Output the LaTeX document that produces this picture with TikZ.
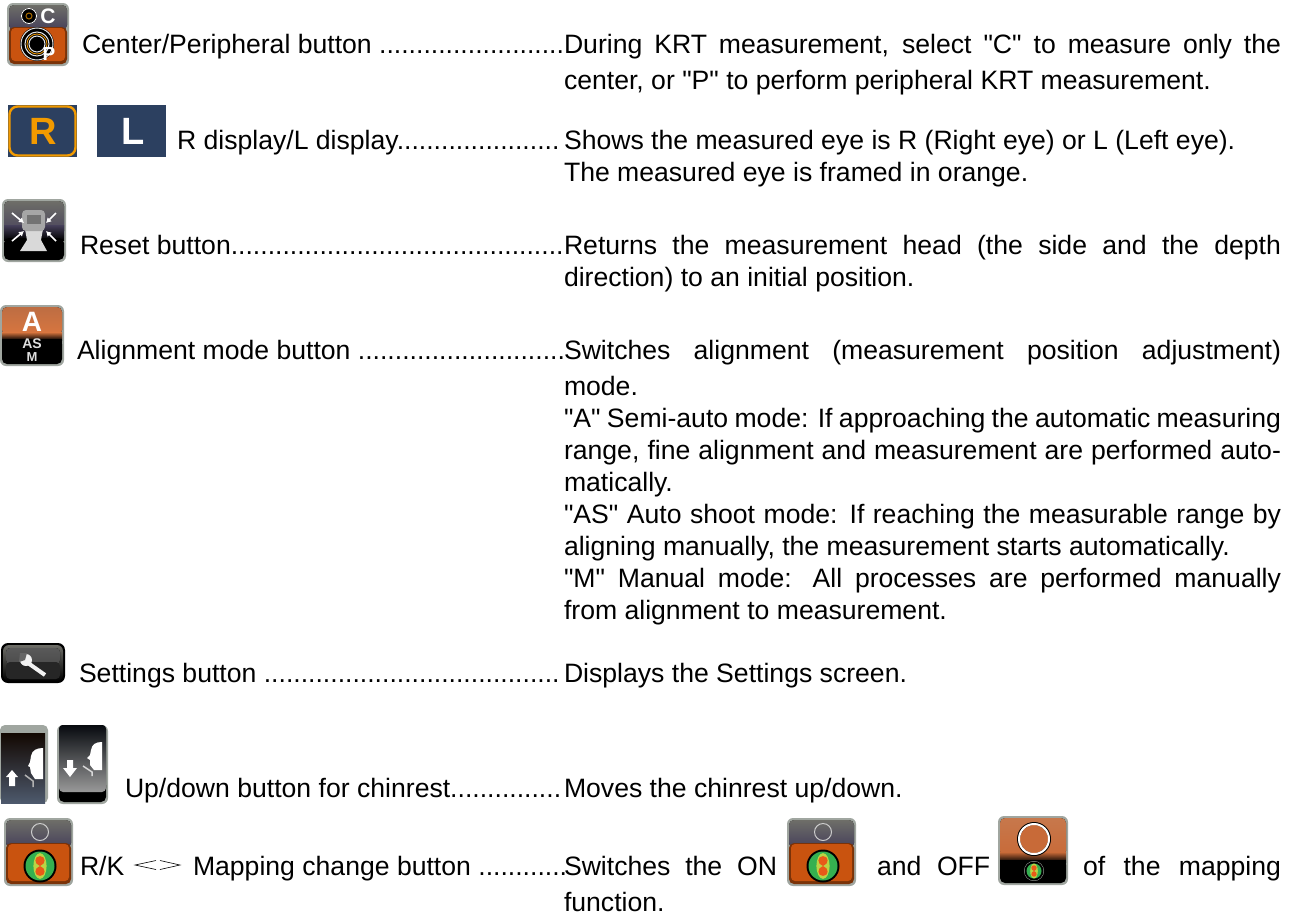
\documentclass[tikz,border=0pt]{standalone}
\usepackage{fontspec}
\newfontfamily\af{Liberation Sans}
\usetikzlibrary{arrows.meta}
\definecolor{navy}{HTML}{2C4060}
\definecolor{frameor}{HTML}{F29A00}
\definecolor{rimg}{HTML}{A0A6A0}
\definecolor{gtop}{HTML}{6E6E68}
\definecolor{gmid}{HTML}{46405A}
\definecolor{orA}{HTML}{C86A38}
\definecolor{orB}{HTML}{D9763F}
\definecolor{orD}{HTML}{C9530F}
\definecolor{orE}{HTML}{7A3208}
\definecolor{mapg}{HTML}{35B050}
\definecolor{mapy}{HTML}{E8E040}
\definecolor{mapr}{HTML}{E85A18}
\tikzset{
  x=1pt,y=-1pt,
  txt/.style={anchor=base west,inner sep=0pt,outer sep=0pt,font=\af\fontsize{26.6}{30}\selectfont},
  icontxt/.style={inner sep=0pt,text=white,font=\af\bfseries\fontsize{#1}{#1}\selectfont},
  rimbox/.style={rounded corners=6pt,fill=rimg},
}
\newcommand{\orpanel}[4]{%
  \fill[rounded corners=5pt,orE] (#1,#2) rectangle (#3,#4);
  \fill[rounded corners=4pt,orD] (#1+2,#2+1) rectangle (#3-2,#4-3);}
\newcommand{\mapdisk}[3]{%
  \fill[black] (#1,#2) circle[radius=#3];
  \fill[mapg] (#1,#2) circle[radius=#3-2];
  \fill[mapy!75!mapg] (#1,#2) ellipse[x radius=#3*0.40,y radius=#3*0.78];
  \fill[mapr] (#1,#2) .. controls (#1-#3*0.38,#2-#3*0.12) and (#1-#3*0.36,#2-#3*0.60) .. (#1,#2-#3*0.60) .. controls (#1+#3*0.36,#2-#3*0.60) and (#1+#3*0.38,#2-#3*0.12) .. (#1,#2);
  \fill[mapr] (#1,#2) .. controls (#1-#3*0.38,#2+#3*0.12) and (#1-#3*0.36,#2+#3*0.60) .. (#1,#2+#3*0.60) .. controls (#1+#3*0.36,#2+#3*0.60) and (#1+#3*0.38,#2+#3*0.12) .. (#1,#2);}
\newcommand{\onicon}[2]{%
  \begin{scope}[shift={(#1,#2)}]
    \fill[rimbox] (0,0) rectangle (69,68);
    \fill[rounded corners=5pt,top color=gtop,bottom color=gmid] (2,2) rectangle (67,30);
    \orpanel{2}{25}{67}{66}
    \draw[line width=1pt,draw=gray!40] (36,14) circle[radius=8.5];
    \mapdisk{36}{48}{16.5}
  \end{scope}}
\newcommand{\jline}[2]{\node[txt] at (564,#1) {\hbox to 717pt{#2}};}
\newcommand{\pline}[2]{\node[txt] at (564,#1) {#2};}
\newcommand{\lline}[3]{\node[txt] at (#1,#2) {#3};}
\begin{document}
\begin{tikzpicture}
\useasboundingbox (0,0) rectangle (1300,916);
\fill[white] (0,0) rectangle (1300,916);

% Center/Peripheral icon
\fill[rimbox] (7,3) rectangle (69,66);
\fill[rounded corners=5pt,top color=gtop,bottom color=gmid] (9,5) rectangle (67,30);
\orpanel{9}{27}{67}{64}
\fill[black] (29,16) circle[radius=8];
\draw[white,line width=.8pt] (29,16) circle[radius=7.5];
\draw[frameor!70!black,line width=1pt] (29,16) circle[radius=3];
\fill[black] (37,44) circle[radius=17];
\draw[white!80!gray,line width=1pt] (37,44) circle[radius=16];
\draw[white!80!gray,line width=1pt] (37,44) circle[radius=12];
\draw[white!80!gray,line width=1pt] (37,44) circle[radius=8];
\draw[frameor,line width=.8pt] (37,44) circle[radius=10];
\node[icontxt=21] (cpc) at (48,16) {C};
\node[icontxt=19] (cpp) at (49,54) {P};

% R / L
\fill[navy] (8,105) rectangle (77,157);
\draw[frameor,line width=2.4pt,rounded corners=8pt] (9.5,106.5) rectangle (75.5,155.5);
\node[icontxt=38,text=frameor] (rr) at (43,131) {R};
\fill[navy] (97,105) rectangle (166,157);
\node[icontxt=38] (ll) at (133,131) {L};

% Reset icon
\fill[rimbox] (2,199) rectangle (66,262);
\fill[rounded corners=5pt,top color=gtop,bottom color=gmid] (4,201) rectangle (64,236);
\fill[top color=gmid,bottom color=black] (4,225) rectangle (64,240);
\fill[black,rounded corners=5pt] (4,238) rectangle (64,260);
\fill[gray!30] (25,229) -- (43,229) -- (41,240) -- (47,251) -- (20,251) -- (27,240) -- cycle;
\fill[gray!70,rounded corners=4pt] (22,210) rectangle (45,231);
\fill[gray!90!black] (27,215) rectangle (41,224);
\coordinate (a1) at (12,213); \coordinate (a2) at (24,223);
\coordinate (b1) at (56,213); \coordinate (b2) at (46,223);
\coordinate (c1) at (12,241); \coordinate (c2) at (24,231);
\coordinate (d1) at (56,241); \coordinate (d2) at (46,231);
\draw[color=white,line width=1.6pt,-{Latex[length=5pt,width=6pt]}] (a1) -- (a2);
\draw[color=white,line width=1.6pt,-{Latex[length=5pt,width=6pt]}] (b1) -- (b2);
\draw[color=white,line width=1.6pt,-{Latex[length=5pt,width=6pt]}] (c1) -- (c2);
\draw[color=white,line width=1.6pt,-{Latex[length=5pt,width=6pt]}] (d1) -- (d2);

% Alignment icon
\fill[rimbox] (0,305) rectangle (64,366);
\fill[rounded corners=5pt,top color=orA!85!gray,bottom color=orB] (2,307) rectangle (62,335);
\fill[top color=orB,bottom color=black] (2,332) rectangle (62,340);
\fill[rounded corners=5pt,black] (2,339) rectangle (62,364);
\fill[black] (2,339) rectangle (62,350);
\node[icontxt=28] (aa) at (32,322) {A};
\node[icontxt=14,text=gray!25] (as) at (32,344) {AS};
\node[icontxt=13,text=gray!25] (am) at (32,357.5) {M};

% Settings icon
\fill[rounded corners=7pt,fill=black] (1,643) rectangle (65,683);
\fill[rounded corners=6pt,top color=gtop,bottom color=black] (3,645) rectangle (63,681);
\fill[rounded corners=4pt,top color=gray!70!black,bottom color=black!70] (6,648) rectangle (60,664);
\fill[rounded corners=4pt,black!85] (6,662) rectangle (60,679);
\draw[white!90!gray,line width=4pt] (28,663) -- (45,675);
\fill[white!90!gray] (26,660) circle[radius=6];
\fill[black!60] (20,653) -- (27,653) -- (25,660) -- (19,662) -- cycle;

% Chinrest up
\fill[rimbox,rounded corners=5pt] (0,725) -- (48,725) -- (48,803) -- (0,803) -- cycle;
\fill[top color=black!85!orE,bottom color=navy!60!gray] (1,733) rectangle (45,803);
\fill[white] (43,748) .. controls (37,748) and (32,750) .. (31,756) -- (30,762) -- (28,766) -- (30,767) -- (31,773) -- (35,779) -- (43,779) -- cycle;
\fill[white] (12,770) -- (6,777) -- (9,777) -- (9,786) -- (15,786) -- (15,777) -- (18,777) -- cycle;
\draw[gray!60,line width=1.5pt] (25,775) -- (33,781) -- (33,787);

% Chinrest down
\fill[rimbox] (57,725) rectangle (108,804);
\fill[rounded corners=5pt,black] (59,780) rectangle (106,802);
\fill[top color=black!85!navy,bottom color=gray!80,rounded corners=4pt] (59,725) -- (106,725) -- (106,792) -- (59,792) -- cycle;
\fill[white] (102,742) .. controls (96,742) and (92,744) .. (91,750) -- (90,755) -- (87,758) -- (90,760) -- (90,765) -- (94,770) -- (102,770) -- cycle;
\fill[white] (67,760) -- (73,760) -- (73,768) -- (77,768) -- (70,777) -- (63,768) -- (67,768) -- cycle;
\draw[gray!30,line width=1.5pt] (83,766) -- (92,772) -- (92,776);

% Mapping icons
\onicon{4}{818}
\onicon{787}{818}
% OFF icon
\fill[rimbox] (998,816) rectangle (1068,885);
\fill[rounded corners=5pt,top color=orB!80!gray,bottom color=orA] (1000,818) rectangle (1066,856);
\fill[top color=orA,bottom color=black] (1000,852) rectangle (1066,862);
\fill[rounded corners=5pt,black] (1000,860) rectangle (1066,883);
\fill[black] (1000,860) rectangle (1066,870);
\fill[black] (1034,839) circle[radius=17];
\fill[orA] (1034,839) circle[radius=14];
\draw[white,line width=2pt] (1034,839) circle[radius=15];
\fill[rimg] (1034,871) circle[radius=10];
\mapdisk{1034}{871}{9.5}

% Left column
\lline{82}{53}{Center/Peripheral button .........................}
\lline{177}{149}{R display/L display......................}
\lline{80}{254}{Reset button.............................................}
\lline{77}{359}{Alignment mode button ............................}
\lline{79}{682}{Settings button ........................................}
\lline{125}{797}{Up/down button for chinrest...............}
\lline{80}{875}{R/K}
\coordinate (al) at (135,865);
\coordinate (alt) at (156,860.5);
\coordinate (alb) at (156,869.5);
\coordinate (ar) at (180,865);
\coordinate (art) at (160,860.5);
\coordinate (arb) at (160,869.5);
\draw[line width=.6pt] (alt) -- (al) -- (alb);
\draw[line width=.6pt] (art) -- (ar) -- (arb);
\lline{193}{875}{Mapping change button ............}

% Right column
\jline{53}{During KRT measurement, select "C" to measure only the}
\pline{89}{center, or "P" to perform peripheral KRT measurement.}
\pline{149}{Shows the measured eye is R (Right eye) or L (Left eye).}
\pline{181}{The measured eye is framed in orange.}
\jline{254}{Returns the measurement head (the side and the depth}
\pline{286}{direction) to an initial position.}
\jline{359}{Switches alignment (measurement position adjustment)}
\pline{395}{mode.}
\jline{427}{"A" Semi-auto mode: If approaching the automatic measuring}
\jline{459}{range, fine alignment and measurement are performed auto-}
\pline{491}{matically.}
\jline{523}{"AS" Auto shoot mode: If reaching the measurable range by}
\pline{555}{aligning manually, the measurement starts automatically.}
\jline{587}{"M" Manual mode: All processes are performed manually}
\pline{619}{from alignment to measurement.}
\pline{682}{Displays the Settings screen.}
\pline{797}{Moves the chinrest up/down.}
\node[txt] at (564,875) {\hbox to 213pt{Switches the ON}};
\lline{877}{875}{and}
\lline{937}{875}{OFF}
\node[txt] at (1083,875) {\hbox to 198pt{of the mapping}};
\pline{911}{function.}
\end{tikzpicture}
\end{document}
